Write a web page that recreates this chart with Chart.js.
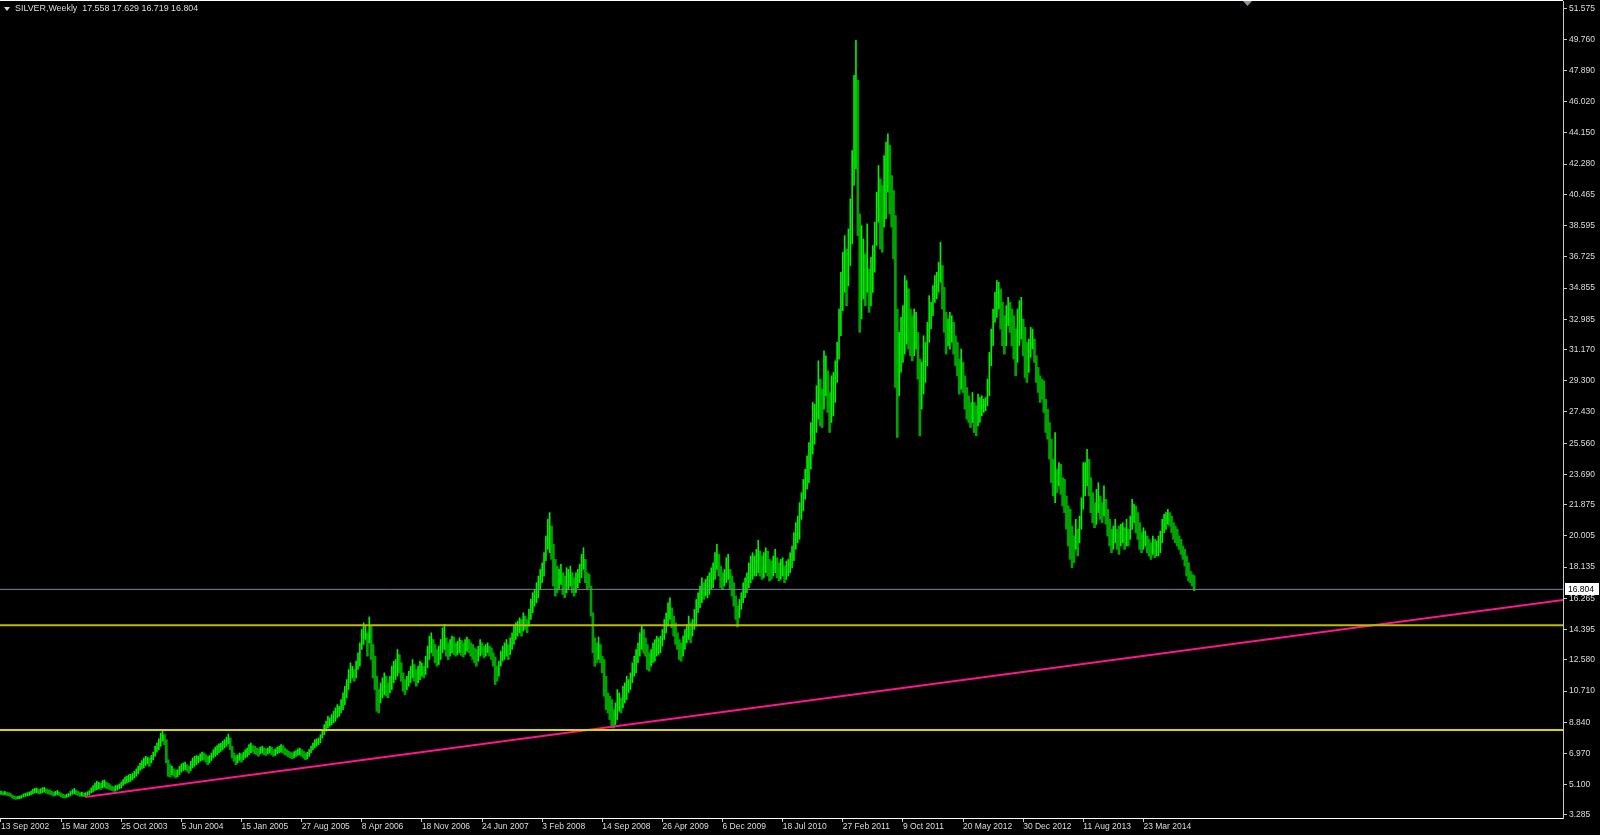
<!DOCTYPE html>
<html>
<head>
<meta charset="utf-8">
<script src="https://cdn.jsdelivr.net/npm/chart.js@4.4.1/dist/chart.umd.min.js"></script>
<style>
  html, body { margin: 0; padding: 0; background: #000; overflow: hidden; }
</style>
</head>
<body>
<canvas id="silver-chart" width="1600" height="835"></canvas>
<script>
const symbol = 'SILVER,Weekly';
const lastBar = [17.558, 17.629, 16.719, 16.804]; // open high low close

const dateLabels = [
    '13 Sep 2002', '15 Mar 2003', '25 Oct 2003', '5 Jun 2004', '15 Jan 2005',
    '27 Aug 2005', '8 Apr 2006', '18 Nov 2006', '24 Jun 2007', '3 Feb 2008',
    '14 Sep 2008', '26 Apr 2009', '6 Dec 2009', '18 Jul 2010', '27 Feb 2011',
    '9 Oct 2011', '20 May 2012', '30 Dec 2012', '11 Aug 2013', '23 Mar 2014',
];
const weeksPerLabel = 32;

const priceTicks = [
    '3.285', '5.100', '6.970', '8.840', '10.710', '12.580', '14.395', '16.265', '18.135',
    '20.005', '21.875', '23.690', '25.560', '27.430', '29.300', '31.170', '32.985',
    '34.855', '36.725', '38.595', '40.465', '42.280', '44.150', '46.020', '47.890',
    '49.760', '51.575',
];

// weekly highs / lows, one per bar
const weekHigh = [
    4.72,4.68,4.70,4.64,4.62,4.58,4.48,4.42,4.38,4.40,
    4.42,4.46,4.55,4.58,4.62,4.66,4.72,4.82,4.88,4.90,
    4.80,4.86,4.92,4.94,4.86,4.80,4.78,4.70,4.66,4.70,
    4.76,4.66,4.60,4.52,4.48,4.52,4.58,4.70,4.80,4.88,
    4.78,4.70,4.62,4.66,4.60,4.62,4.68,4.74,4.90,5.05,
    5.20,5.30,5.25,5.20,5.35,5.38,5.25,5.20,5.10,5.02,
    4.98,5.05,5.08,5.15,5.25,5.40,5.55,5.62,5.70,5.72,
    5.80,5.90,6.05,6.20,6.40,6.55,6.70,6.80,6.75,6.70,
    6.85,7.05,7.40,7.60,7.85,8.20,8.38,8.10,7.80,6.60,
    6.30,6.20,6.05,5.95,6.00,6.20,6.35,6.40,6.45,6.30,
    6.20,6.50,6.70,6.80,6.85,6.80,6.95,7.06,7.00,6.90,
    6.80,6.85,7.00,7.20,7.35,7.45,7.55,7.60,7.70,7.80,
    7.95,8.14,7.90,7.40,7.00,6.85,6.90,7.00,6.95,7.05,
    7.20,7.30,7.50,7.60,7.45,7.40,7.30,7.25,7.35,7.40,
    7.30,7.25,7.30,7.40,7.35,7.20,7.25,7.35,7.40,7.50,
    7.45,7.30,7.20,7.10,7.05,7.00,7.08,7.15,7.25,7.30,
    7.20,7.10,7.00,7.05,7.20,7.40,7.60,7.80,7.85,7.90,
    8.10,8.40,8.70,8.90,9.20,9.10,9.30,9.50,9.70,9.90,
    9.80,10.20,10.60,11.00,11.40,12.00,12.40,12.20,12.00,12.50,
    13.00,13.60,14.40,14.80,14.60,14.20,15.15,14.60,13.50,12.80,
    11.60,10.80,11.20,11.50,11.80,11.60,11.20,11.60,12.20,12.50,
    12.60,13.20,12.90,12.40,11.80,11.40,11.60,11.90,12.20,12.60,
    12.30,12.00,12.20,12.50,12.40,12.20,12.80,13.40,14.00,14.20,
    13.80,13.50,13.20,13.40,13.80,14.50,14.70,13.90,13.60,13.80,
    14.00,13.95,13.60,13.70,13.90,13.75,13.60,13.80,13.95,13.80,
    13.60,13.50,13.30,13.20,13.40,13.80,13.60,13.40,13.50,13.60,
    13.40,13.30,13.00,12.75,12.20,12.50,13.10,13.40,13.60,13.80,
    13.50,13.90,14.20,14.60,14.80,14.90,15.10,15.00,15.40,15.20,
    15.00,15.60,16.20,16.60,16.80,17.20,17.60,18.00,18.40,19.00,
    20.00,21.00,21.40,20.60,19.50,18.60,18.20,18.00,18.30,17.80,
    17.60,18.10,18.00,18.20,17.80,17.50,17.80,18.00,18.30,18.90,
    19.30,18.60,17.80,17.70,17.00,15.40,13.90,13.60,13.95,13.50,
    12.80,12.60,11.60,10.60,10.40,10.20,9.60,10.00,10.80,10.60,
    10.30,11.00,11.20,11.60,11.40,11.80,12.40,12.80,13.20,13.60,
    14.20,14.60,14.40,13.90,13.50,13.00,13.20,13.60,13.80,14.00,
    13.90,14.00,14.40,15.00,15.40,16.00,16.30,15.70,15.20,14.80,
    14.20,13.80,13.60,14.00,14.40,14.70,15.20,14.80,15.00,15.60,
    16.20,16.60,17.00,17.50,17.20,17.40,17.60,17.80,18.10,18.40,
    19.00,19.50,18.90,18.20,17.80,18.00,18.70,18.90,18.00,17.60,
    17.20,16.40,15.80,16.20,16.60,17.20,17.50,17.80,18.40,18.80,
    19.00,18.80,19.20,19.75,19.10,18.80,19.00,19.30,19.10,18.60,
    18.50,18.80,19.20,18.70,18.40,18.60,18.70,18.20,18.50,18.60,
    19.00,19.40,20.20,20.80,21.20,22.00,22.60,23.40,24.00,24.80,
    25.60,26.80,28.00,27.90,29.00,30.50,29.40,28.80,31.10,30.80,
    29.90,28.60,29.60,29.80,30.50,31.60,33.60,35.80,37.00,38.00,
    37.20,38.40,40.20,43.10,47.60,49.70,47.30,39.30,38.60,37.80,
    36.90,38.70,36.00,36.70,37.40,38.80,40.60,42.20,41.40,41.00,
    42.80,43.60,44.10,43.40,41.60,40.70,39.20,33.60,32.20,33.10,
    33.80,35.60,35.30,34.80,33.60,33.20,33.60,33.40,32.20,30.60,
    30.40,32.00,31.60,32.80,34.40,34.00,35.00,35.60,35.80,36.40,
    37.60,36.20,34.90,33.40,33.00,33.40,33.20,32.80,32.00,31.60,
    30.60,31.20,30.40,29.60,28.90,28.40,28.00,28.60,28.00,27.80,
    28.50,28.30,28.40,28.20,28.30,29.40,31.00,32.40,33.60,34.60,
    35.30,35.20,34.80,34.00,33.20,33.80,34.30,34.00,33.60,33.20,
    32.40,33.60,34.10,34.30,33.00,32.50,31.60,31.80,32.50,32.40,
    31.80,30.80,30.10,29.60,29.40,29.30,28.20,27.60,26.80,25.80,
    24.60,26.20,24.00,24.40,24.30,23.50,23.40,22.40,21.80,21.60,
    20.60,20.00,21.00,20.40,21.20,22.30,24.40,24.40,25.20,24.60,
    23.50,22.60,22.00,22.80,23.20,22.40,22.00,23.00,22.20,21.60,
    21.00,20.40,20.60,21.00,20.40,20.60,20.70,20.80,20.50,21.00,
    20.40,21.20,22.20,21.90,21.80,21.40,20.80,20.20,20.50,20.30,
    20.00,19.80,19.60,20.00,19.80,19.70,20.00,20.30,21.00,21.30,
    21.40,21.60,21.40,21.20,20.80,20.60,20.40,20.00,19.80,19.40,
    19.20,18.80,18.40,17.90,17.70,17.629,
];

const weekLow = [
    4.52,4.48,4.50,4.46,4.44,4.40,4.30,4.24,4.22,4.26,
    4.25,4.30,4.36,4.40,4.42,4.45,4.50,4.55,4.60,4.62,
    4.55,4.58,4.62,4.66,4.60,4.55,4.52,4.48,4.42,4.46,
    4.50,4.45,4.36,4.32,4.30,4.34,4.38,4.45,4.52,4.56,
    4.50,4.46,4.40,4.42,4.38,4.40,4.45,4.50,4.60,4.65,
    4.75,4.80,4.85,4.82,4.90,4.95,4.88,4.85,4.80,4.75,
    4.70,4.72,4.78,4.85,4.90,5.05,5.15,5.20,5.25,5.30,
    5.40,5.50,5.60,5.75,5.95,6.05,6.10,6.25,6.35,6.20,
    6.40,6.60,6.80,7.05,7.20,7.40,7.70,7.50,6.40,5.60,
    5.55,5.70,5.60,5.50,5.58,5.70,5.85,5.95,6.00,5.90,
    5.80,5.95,6.10,6.20,6.30,6.40,6.50,6.55,6.60,6.45,
    6.30,6.40,6.55,6.70,6.80,6.90,7.00,7.10,7.20,7.30,
    7.40,7.55,7.20,6.70,6.50,6.30,6.40,6.55,6.45,6.60,
    6.70,6.76,6.90,7.00,7.05,6.95,6.90,6.80,6.95,7.00,
    6.90,6.85,6.95,7.00,6.90,6.80,6.85,6.95,7.00,7.05,
    7.00,6.90,6.85,6.75,6.70,6.65,6.72,6.80,6.85,6.90,
    6.80,6.70,6.60,6.65,6.80,7.00,7.20,7.30,7.40,7.50,
    7.60,7.90,8.10,8.30,8.50,8.60,8.70,8.80,8.90,9.10,
    9.20,9.40,9.60,9.90,10.30,10.80,11.20,11.50,11.30,11.50,
    12.00,12.20,13.20,13.50,13.80,12.80,13.60,12.60,11.50,10.80,
    9.50,9.40,10.00,10.30,10.50,10.40,10.30,10.60,10.80,11.20,
    11.40,11.60,11.80,11.30,10.70,10.50,10.80,11.00,11.20,11.50,
    11.30,11.00,11.20,11.40,11.60,11.50,11.70,12.10,12.60,13.00,
    12.80,12.40,12.20,12.30,12.60,13.00,13.20,12.80,12.60,12.80,
    13.00,12.90,12.80,12.90,13.00,12.85,12.75,12.90,13.10,13.00,
    12.80,12.60,12.40,12.20,12.50,12.80,12.90,12.70,12.80,13.00,
    12.80,12.60,12.20,11.10,11.30,11.60,12.20,12.50,12.60,12.80,
    12.60,12.90,13.20,13.50,13.80,14.00,14.20,14.00,14.30,14.40,
    14.20,14.60,15.00,15.40,15.80,16.00,16.30,16.80,17.20,17.60,
    18.50,19.20,19.00,18.60,17.00,16.40,16.60,16.80,17.10,16.50,
    16.30,16.60,16.80,17.00,16.60,16.40,16.60,16.90,17.20,17.50,
    18.00,17.20,16.80,16.90,15.20,13.00,12.20,12.40,12.60,12.40,
    11.80,10.40,9.60,9.40,9.00,8.55,8.50,8.70,9.00,9.50,
    9.40,9.70,10.00,10.20,10.60,10.80,11.20,11.60,11.80,12.40,
    12.80,13.20,13.00,12.80,12.00,11.90,12.20,12.40,12.50,12.80,
    12.90,13.00,13.40,13.80,14.20,14.60,15.00,14.50,14.00,13.50,
    13.20,12.60,12.50,12.80,13.20,13.60,13.80,13.60,14.00,14.40,
    14.60,15.40,15.70,16.00,16.20,16.40,16.30,16.50,16.80,16.90,
    17.40,18.00,17.60,16.90,16.80,17.00,17.20,17.40,16.80,16.40,
    15.80,15.00,14.55,15.10,15.60,16.00,16.30,16.60,16.90,17.20,
    17.40,17.60,17.60,17.80,17.60,17.40,17.50,17.80,17.60,17.30,
    17.40,17.60,17.80,17.50,17.30,17.40,17.60,17.20,17.40,17.60,
    17.80,18.10,18.50,19.20,19.60,19.80,21.00,21.50,22.20,22.80,
    23.20,24.00,24.90,25.50,26.20,27.00,26.60,26.50,27.60,28.40,
    27.40,26.20,26.80,27.20,28.00,29.20,30.60,32.00,33.50,34.60,
    33.80,35.00,36.20,37.50,41.00,42.00,38.00,32.20,33.00,34.20,
    33.80,34.60,33.40,33.80,34.60,35.80,37.40,38.80,37.20,37.00,
    38.50,39.00,40.60,39.30,38.50,36.60,28.90,25.90,28.40,29.80,
    30.40,30.90,31.50,31.20,30.80,30.50,30.80,31.20,29.40,26.00,
    27.60,28.50,29.20,30.20,31.60,32.40,33.20,34.00,34.20,34.60,
    35.20,33.60,32.20,30.90,31.40,31.20,31.60,30.90,30.20,29.60,
    28.50,28.80,28.60,27.60,27.00,26.80,26.50,26.80,26.20,26.00,
    26.60,26.80,27.20,27.40,27.50,27.80,28.40,30.20,31.40,32.80,
    33.10,33.60,32.40,31.40,30.90,31.40,32.60,32.20,31.40,30.60,
    29.60,30.40,31.40,31.80,30.80,29.50,29.20,29.80,30.70,31.20,
    30.40,29.20,28.60,28.00,28.20,27.40,26.20,25.80,24.60,23.20,
    22.40,22.00,22.60,23.00,22.50,21.80,21.40,20.40,19.40,18.60,
    18.10,18.40,19.20,18.80,19.60,20.40,21.60,22.40,23.00,22.40,
    21.40,20.80,20.50,20.70,21.40,21.00,20.80,21.20,20.70,20.00,
    19.40,19.00,19.20,19.60,19.20,18.90,19.40,19.60,19.20,19.40,
    19.40,19.80,20.40,20.80,20.20,19.80,19.20,19.00,19.20,19.40,
    19.00,18.80,18.60,18.90,18.70,18.80,18.80,19.00,19.60,20.20,
    20.40,20.70,20.60,20.20,19.80,19.60,19.40,19.20,18.90,18.60,
    18.20,17.60,17.30,17.20,17.00,16.719,
];

// drawn objects
const supportUpper = 14.66;
const supportLower = 8.38;
const trendWeeks = [44.7, 831.3];
const trendPrices = [4.36, 16.17];

// view window (bar index / price) chosen to match the terminal's framing
const xMin = -0.532, xMax = 831.3;
const yMin = 3.105, yMax = 52.054;

const upBars = [];
const downBars = [];
weekHigh.forEach((hi, i) => {
    const lo = weekLow[i];
    const rising = i === 0 || hi + lo >= weekHigh[i - 1] + weekLow[i - 1];
    (rising ? upBars : downBars).push({ x: i, y: [lo, hi] });
});

const levelLine = (price, color, width) => ({
    type: 'line',
    data: [{ x: xMin, y: price }, { x: xMax, y: price }],
    borderColor: color,
    borderWidth: width,
    pointRadius: 0,
    order: 0,
});

const tickFont = { family: 'Liberation Sans', size: 8.5 };
const textColor = '#dcdcdc';

const terminalDecor = {
    id: 'terminalDecor',
    beforeDraw(chart) {
        const { ctx, width, height } = chart;
        ctx.save();
        ctx.fillStyle = '#000000';
        ctx.fillRect(0, 0, width, height);
        ctx.restore();
    },
    afterDraw(chart) {
        const { ctx, chartArea: area, scales: { y } } = chart;
        ctx.save();
        // top frame
        ctx.fillStyle = '#ffffff';
        ctx.fillRect(area.left, 0, area.right - area.left, 1);

        // chart shift marker
        ctx.fillStyle = '#8a94a0';
        ctx.beginPath();
        ctx.moveTo(1243, 1);
        ctx.lineTo(1252, 1);
        ctx.lineTo(1247.5, 6);
        ctx.closePath();
        ctx.fill();

        // symbol header
        ctx.fillStyle = textColor;
        ctx.beginPath();
        ctx.moveTo(4, 7);
        ctx.lineTo(10, 7);
        ctx.lineTo(7, 11);
        ctx.closePath();
        ctx.fill();
        ctx.font = '8.9px "Liberation Sans"';
        ctx.textBaseline = 'middle';
        ctx.textAlign = 'left';
        ctx.fillText(symbol + '  ' + lastBar.map(v => v.toFixed(3)).join(' '), 15, 9);

        // last price tag
        ctx.font = '8.5px "Liberation Sans"';
        const py = Math.round(y.getPixelForValue(lastBar[3]));
        ctx.fillStyle = '#ffffff';
        ctx.fillRect(area.right + 2, py - 6, 34, 12);
        ctx.fillStyle = '#000000';
        ctx.fillText(lastBar[3].toFixed(3), area.right + 5, py + 0.5);
        ctx.restore();
    },
};

const config = {
    type: 'bar',
    data: {
        datasets: [
            levelLine(lastBar[3], '#778899', 1),
            levelLine(supportUpper, '#bcbc00', 2),
            levelLine(supportLower, '#d8d800', 2),
            {
                type: 'line',
                data: trendWeeks.map((w, k) => ({ x: w, y: trendPrices[k] })),
                borderColor: '#ff1493',
                borderWidth: 2,
                pointRadius: 0,
                order: 0,
            },
            {
                data: upBars,
                backgroundColor: '#00f000',
                barThickness: 1,
                grouped: false,
                order: 1,
            },
            {
                data: downBars,
                backgroundColor: '#00a400',
                barThickness: 2,
                grouped: false,
                order: 2,
            },
        ],
    },
    options: {
        responsive: false,
        animation: false,
        devicePixelRatio: 1,
        events: [],
        layout: { padding: { top: 1, left: 0, right: 0, bottom: 0 } },
        plugins: {
            legend: { display: false },
            tooltip: { enabled: false },
        },
        scales: {
            x: {
                type: 'linear',
                offset: false,
                min: xMin,
                max: xMax,
                afterBuildTicks: axis => {
                    axis.ticks = dateLabels.map((_, k) => ({ value: k * weeksPerLabel }));
                },
                afterFit: axis => {
                    axis.height = 17;
                    axis.paddingLeft = 0;
                    axis.paddingRight = 0;
                },
                grid: { offset: false, drawOnChartArea: false, drawTicks: true, tickLength: 4, color: '#c8c8c8' },
                border: { display: true, color: '#ffffff', width: 1 },
                ticks: {
                    align: 'start',
                    padding: 0,
                    maxRotation: 0,
                    autoSkip: false,
                    color: textColor,
                    font: tickFont,
                    callback: value => dateLabels[Math.round(value / weeksPerLabel)],
                },
            },
            y: {
                type: 'linear',
                position: 'right',
                min: yMin,
                max: yMax,
                afterBuildTicks: axis => {
                    axis.ticks = priceTicks.map(t => ({ value: parseFloat(t) }));
                },
                afterFit: axis => {
                    axis.width = 37;
                    axis.paddingTop = 0;
                    axis.paddingBottom = 0;
                },
                grid: { drawOnChartArea: false, drawTicks: true, tickLength: 4, color: '#c8c8c8' },
                border: { display: true, color: '#c8c8c8', width: 1 },
                ticks: {
                    padding: 2,
                    autoSkip: false,
                    color: textColor,
                    font: tickFont,
                    callback: (value, index) => priceTicks[index],
                },
            },
        },
    },
    plugins: [terminalDecor],
};

new Chart(document.getElementById('silver-chart'), config);
</script>
</body>
</html>
